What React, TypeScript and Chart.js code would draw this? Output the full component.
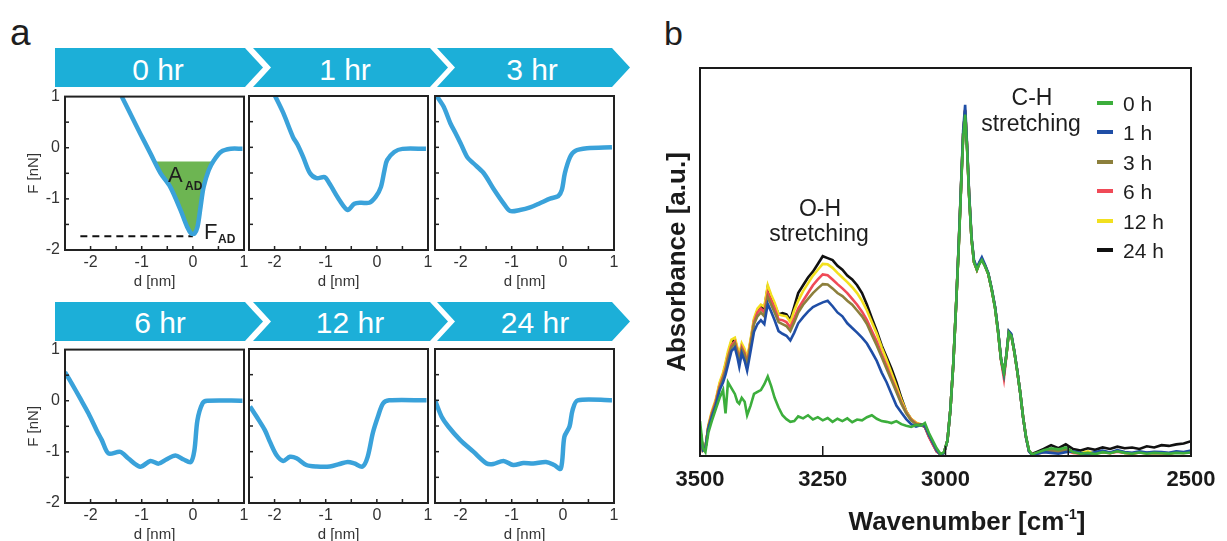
import React, { useEffect, useRef } from "react";
import { Chart, registerables } from "chart.js";

Chart.register(...registerables);

const FONT = '"Liberation Sans", Arial, Helvetica, sans-serif';
Chart.defaults.font.family = FONT;

// ---------------- Panel a data ----------------
const SMALL_X_LABELS = [-2, -1, 0, 1];
const SMALL_Y_LABELS = [1, 0, -1, -2];
const SMALL_X_MINOR = [-2, -1.5, -1, -0.5, 0, 0.5];
const SMALL_Y_MINOR = [0.5, 0, -0.5, -1, -1.5];
const TIME_LABELS = ["0 hr", "1 hr", "3 hr", "6 hr", "12 hr", "24 hr"];

const D_0HR = [-1.39, -1.2, -1.03, -0.83, -0.63, -0.44, -0.24, -0.11, -0.03, 0.03, 0.09, 0.15, 0.21, 0.31, 0.41, 0.55, 0.74, 0.97];
const F_0HR = [1.0, 0.62, 0.28, -0.11, -0.5, -0.77, -1.22, -1.55, -1.68, -1.68, -1.55, -1.16, -0.77, -0.44, -0.25, -0.08, -0.02, -0.02];
const D_AREA = [-0.75, -0.63, -0.44, -0.24, -0.11, -0.03, 0.03, 0.09, 0.15, 0.21, 0.31, 0.4];
const F_AREA = [-0.27, -0.5, -0.77, -1.22, -1.55, -1.68, -1.68, -1.55, -1.16, -0.77, -0.44, -0.27];
const AREA_TOP = -0.27;
const D_FAD = [-2.2, 0];
const F_FAD = [-1.73, -1.73];

const D_1HR = [-1.99, -1.83, -1.64, -1.55, -1.44, -1.31, -1.18, -1.02, -0.93, -0.73, -0.57, -0.44, -0.31, -0.15, -0.02, 0.08, 0.15, 0.2, 0.34, 0.5, 0.96];
const F_1HR = [1.0, 0.67, 0.2, 0.05, -0.19, -0.5, -0.6, -0.58, -0.7, -1.03, -1.22, -1.1, -1.08, -1.08, -0.96, -0.77, -0.44, -0.25, -0.09, -0.03, -0.03];

const D_3HR = [-2.46, -2.33, -2.2, -2.1, -2.0, -1.87, -1.75, -1.55, -1.36, -1.16, -1.03, -0.84, -0.64, -0.45, -0.25, -0.09, -0.02, 0.04, 0.14, 0.24, 0.47, 0.96];
const F_3HR = [0.99, 0.79, 0.47, 0.28, 0.08, -0.19, -0.31, -0.5, -0.8, -1.09, -1.24, -1.22, -1.17, -1.09, -1.0, -0.95, -0.83, -0.5, -0.19, -0.07, -0.02, 0.0];

const D_6HR = [-2.5, -2.37, -2.2, -2.04, -1.88, -1.78, -1.65, -1.42, -1.26, -1.03, -0.83, -0.67, -0.52, -0.34, -0.18, -0.04, 0.03, 0.09, 0.19, 0.28, 0.97];
const F_6HR = [0.56, 0.34, 0.04, -0.25, -0.58, -0.77, -1.03, -1.0, -1.13, -1.29, -1.18, -1.23, -1.15, -1.07, -1.15, -1.2, -0.97, -0.38, -0.05, 0.0, 0.0];

const D_12HR = [-2.48, -2.35, -2.19, -2.09, -1.96, -1.83, -1.7, -1.57, -1.38, -1.18, -0.92, -0.73, -0.57, -0.44, -0.28, -0.18, -0.08, 0.02, 0.12, 0.24, 0.97];
const F_12HR = [-0.12, -0.32, -0.58, -0.81, -1.07, -1.18, -1.1, -1.13, -1.26, -1.29, -1.29, -1.24, -1.2, -1.23, -1.29, -1.1, -0.64, -0.32, -0.06, 0.0, 0.0];

const D_24HR = [-2.5, -2.37, -2.24, -2.01, -1.75, -1.49, -1.36, -1.16, -0.97, -0.77, -0.58, -0.33, -0.17, -0.04, 0.03, 0.13, 0.19, 0.29, 0.96];
const F_24HR = [0.0, -0.32, -0.51, -0.77, -1.0, -1.23, -1.24, -1.18, -1.26, -1.22, -1.23, -1.2, -1.26, -1.33, -0.71, -0.51, -0.19, 0.0, 0.0];

// ---------------- Panel b data ----------------
const WAVENUMBERS = [
  3500, 3494, 3489, 3483, 3476, 3468, 3460, 3453, 3448, 3443,
  3436, 3429, 3424, 3420, 3415, 3409, 3404, 3397, 3390, 3383,
  3376, 3369, 3362, 3355, 3348, 3340, 3332, 3324, 3316, 3308,
  3300, 3290, 3280, 3270, 3260, 3250, 3240, 3230, 3220, 3210,
  3200, 3190, 3180, 3170, 3160, 3150, 3140, 3130, 3120, 3110,
  3100, 3090, 3080, 3070, 3060, 3050, 3042, 3034, 3026, 3018,
  3010, 3003, 2996, 2990, 2984, 2978, 2973, 2968, 2964, 2960,
  2956, 2952, 2947, 2942, 2936, 2931, 2926, 2920, 2913, 2906,
  2899, 2893, 2887, 2881, 2876, 2871, 2866, 2860, 2854, 2848,
  2842, 2836, 2830, 2824, 2815, 2800, 2785, 2770, 2755, 2740,
  2725, 2710, 2695, 2680, 2665, 2650, 2635, 2620, 2605, 2590,
  2575, 2560, 2545, 2530, 2515, 2500,
];

const ABS_0H = [
  0.09, 0.02, 0.01, 0.06, 0.09, 0.12, 0.15, 0.17, 0.11, 0.19,
  0.175, 0.16, 0.14, 0.135, 0.15, 0.14, 0.105, 0.13, 0.16, 0.165,
  0.17, 0.185, 0.205, 0.18, 0.15, 0.125, 0.105, 0.095, 0.088, 0.09,
  0.102, 0.097, 0.105, 0.094, 0.1, 0.092, 0.098, 0.088, 0.096, 0.09,
  0.097, 0.087, 0.094, 0.092, 0.1, 0.105, 0.096, 0.09, 0.088, 0.085,
  0.09, 0.082, 0.078, 0.075, 0.08, 0.078, 0.085, 0.06, 0.04, 0.02,
  0.005, 0.01, 0.04, 0.12, 0.24, 0.4, 0.54, 0.7, 0.82, 0.88,
  0.79, 0.67, 0.56, 0.5, 0.48, 0.495, 0.505, 0.49, 0.47, 0.43,
  0.38, 0.32, 0.25, 0.215, 0.26, 0.318, 0.31, 0.27, 0.22, 0.165,
  0.1, 0.05, 0.015, 0.004, 0.008, 0.015, 0.02, 0.017, 0.022, 0.01,
  0.006, 0.008, 0.005, 0.01, 0.007, 0.012, 0.008, 0.006, 0.009, 0.006,
  0.008, 0.007, 0.006, 0.008, 0.007, 0.009,
];
const ABS_1H = [
  0.07, 0.015, 0.02, 0.07, 0.1, 0.13, 0.17, 0.19, 0.21, 0.235,
  0.27, 0.28, 0.255, 0.23, 0.265, 0.245, 0.22, 0.27, 0.32, 0.34,
  0.35, 0.34, 0.392, 0.372, 0.35, 0.322, 0.315, 0.31, 0.298, 0.318,
  0.342, 0.358, 0.372, 0.384, 0.39, 0.396, 0.4, 0.386, 0.37, 0.36,
  0.342, 0.33, 0.318, 0.305, 0.29, 0.268, 0.245, 0.215, 0.19, 0.16,
  0.13, 0.112, 0.095, 0.082, 0.076, 0.08, 0.078, 0.055, 0.035, 0.015,
  0.003, 0.008, 0.04, 0.12, 0.24, 0.4, 0.55, 0.71, 0.84, 0.905,
  0.8, 0.68, 0.565, 0.505, 0.485, 0.5, 0.512, 0.495, 0.472, 0.432,
  0.385, 0.325, 0.252, 0.212, 0.262, 0.322, 0.315, 0.272, 0.222, 0.165,
  0.1, 0.048, 0.012, 0.003, 0.005, 0.01, 0.008, 0.006, 0.01, 0.012,
  0.008, 0.005, 0.01, 0.014, 0.009, 0.015, 0.01, 0.008, 0.012, 0.009,
  0.011, 0.01, 0.008, 0.012, 0.01, 0.014,
];
const ABS_3H = [
  0.07, 0.015, 0.02, 0.075, 0.105, 0.135, 0.175, 0.2, 0.22, 0.25,
  0.28, 0.29, 0.268, 0.245, 0.275, 0.26, 0.235, 0.285, 0.34, 0.36,
  0.37, 0.36, 0.41, 0.39, 0.37, 0.345, 0.34, 0.335, 0.322, 0.345,
  0.37, 0.39, 0.405, 0.42, 0.432, 0.443, 0.442, 0.432, 0.42, 0.412,
  0.4, 0.39, 0.375, 0.36, 0.34, 0.312, 0.285, 0.255, 0.225, 0.195,
  0.165, 0.135, 0.11, 0.092, 0.082, 0.082, 0.08, 0.056, 0.036, 0.016,
  0.004, 0.009, 0.04, 0.12, 0.24, 0.4, 0.545, 0.705, 0.83, 0.89,
  0.795, 0.675, 0.56, 0.5, 0.48, 0.497, 0.507, 0.492, 0.47, 0.43,
  0.382, 0.322, 0.25, 0.21, 0.26, 0.32, 0.312, 0.27, 0.22, 0.165,
  0.1, 0.048, 0.013, 0.004, 0.006, 0.012, 0.015, 0.012, 0.016, 0.01,
  0.007, 0.006, 0.008, 0.012, 0.008, 0.013, 0.009, 0.007, 0.01, 0.008,
  0.009, 0.008, 0.007, 0.01, 0.009, 0.012,
];
const ABS_6H = [
  0.075, 0.015, 0.02, 0.075, 0.11, 0.14, 0.18, 0.205, 0.225, 0.255,
  0.285, 0.295, 0.272, 0.25, 0.28, 0.265, 0.24, 0.29, 0.345, 0.37,
  0.38, 0.37, 0.42, 0.4, 0.38, 0.352, 0.35, 0.345, 0.332, 0.355,
  0.38, 0.4, 0.42, 0.44, 0.455, 0.468, 0.466, 0.455, 0.443, 0.432,
  0.42, 0.405, 0.39, 0.372, 0.35, 0.322, 0.295, 0.262, 0.232, 0.2,
  0.17, 0.138, 0.112, 0.094, 0.084, 0.08, 0.076, 0.05, 0.03, 0.012,
  0.004, 0.009, 0.04, 0.12, 0.24, 0.4, 0.545, 0.705, 0.83, 0.892,
  0.796, 0.676, 0.56, 0.5, 0.48, 0.497, 0.507, 0.492, 0.47, 0.43,
  0.382, 0.322, 0.248, 0.2, 0.258, 0.32, 0.312, 0.27, 0.22, 0.165,
  0.1, 0.048, 0.013, 0.004, 0.006, 0.01, 0.012, 0.01, 0.014, 0.008,
  0.006, 0.005, 0.008, 0.01, 0.007, 0.011, 0.008, 0.006, 0.009, 0.007,
  0.008, 0.007, 0.006, 0.009, 0.008, 0.01,
];
const ABS_12H = [
  0.075, 0.015, 0.02, 0.08, 0.115, 0.145, 0.19, 0.215, 0.24, 0.27,
  0.3, 0.305, 0.28, 0.26, 0.29, 0.275, 0.25, 0.3, 0.355, 0.38,
  0.39, 0.385, 0.44, 0.415, 0.395, 0.365, 0.362, 0.36, 0.345, 0.375,
  0.4, 0.425, 0.445, 0.465, 0.48, 0.495, 0.494, 0.485, 0.472, 0.46,
  0.448, 0.435, 0.42, 0.4, 0.375, 0.345, 0.315, 0.28, 0.248, 0.214,
  0.18, 0.145, 0.115, 0.096, 0.086, 0.082, 0.078, 0.054, 0.034, 0.014,
  0.004, 0.009, 0.04, 0.12, 0.24, 0.4, 0.545, 0.705, 0.83, 0.89,
  0.795, 0.675, 0.56, 0.5, 0.48, 0.497, 0.507, 0.492, 0.47, 0.43,
  0.382, 0.322, 0.25, 0.21, 0.26, 0.32, 0.312, 0.27, 0.22, 0.165,
  0.1, 0.048, 0.013, 0.004, 0.006, 0.012, 0.014, 0.012, 0.015, 0.009,
  0.007, 0.012, 0.006, 0.01, 0.008, 0.012, 0.008, 0.006, 0.009, 0.007,
  0.008, 0.007, 0.006, 0.009, 0.008, 0.011,
];
const ABS_24H = [
  0.07, 0.015, 0.02, 0.075, 0.11, 0.14, 0.185, 0.21, 0.235, 0.262,
  0.295, 0.3, 0.275, 0.255, 0.285, 0.27, 0.245, 0.295, 0.35, 0.375,
  0.385, 0.38, 0.435, 0.41, 0.39, 0.365, 0.368, 0.365, 0.35, 0.385,
  0.42, 0.44, 0.46, 0.475, 0.495, 0.515, 0.51, 0.505, 0.49, 0.48,
  0.465, 0.455, 0.44, 0.42, 0.39, 0.355, 0.322, 0.285, 0.255, 0.225,
  0.19, 0.15, 0.115, 0.095, 0.085, 0.08, 0.075, 0.052, 0.032, 0.012,
  0.004, 0.009, 0.04, 0.12, 0.24, 0.4, 0.545, 0.705, 0.83, 0.89,
  0.795, 0.675, 0.56, 0.5, 0.48, 0.497, 0.507, 0.492, 0.47, 0.43,
  0.382, 0.322, 0.25, 0.21, 0.26, 0.32, 0.312, 0.27, 0.22, 0.165,
  0.1, 0.048, 0.013, 0.005, 0.01, 0.018, 0.028, 0.02, 0.03, 0.018,
  0.014, 0.02, 0.016, 0.022, 0.018, 0.024, 0.02, 0.022, 0.018, 0.025,
  0.022, 0.028, 0.026, 0.03, 0.032, 0.038,
];

const SERIES_LABELS = ["0 h", "1 h", "3 h", "6 h", "12 h", "24 h"];
const SERIES_COLORS = ["#3cae3c", "#1f4ea6", "#8c7f3c", "#f04a57", "#f2e01f", "#111111"];
const SERIES_VALUES = [ABS_0H, ABS_1H, ABS_3H, ABS_6H, ABS_12H, ABS_24H];
const B_X_LABELS = [3500, 3250, 3000, 2750, 2500];

// ---------------- styling / layout ----------------
const CURVE_COLOR = "#3aa2da";
const BANNER_COLOR = "#1cafd8";
const AREA_COLOR = "#6db552";
const TEXT = "#1e1e1e";

const COL_LEFT = [65, 249, 435];
const ROW_TOP = [96, 349];
const BOX_W = 179;
const BOX_H = 154;
const PAD_L = 45;
const PAD_T = 14;
const PAD_R = 14;
const PAD_B = 48;

const frameTicks = {
  id: "frameTicks",
  afterDraw(chart: any, _args: any, opts: any) {
    if (!opts || !opts.enabled) return;
    const { ctx, chartArea: a, scales } = chart;
    ctx.save();
    ctx.strokeStyle = opts.color || "#222";
    ctx.lineWidth = opts.tickWidth || 1.5;
    (opts.xTicks || []).forEach((v: number) => {
      const px = scales.x.getPixelForValue(v);
      ctx.beginPath();
      ctx.moveTo(px, a.bottom);
      ctx.lineTo(px, a.bottom - opts.len);
      ctx.stroke();
    });
    (opts.yTicks || []).forEach((v: number) => {
      const py = scales.y.getPixelForValue(v);
      ctx.beginPath();
      ctx.moveTo(a.left, py);
      ctx.lineTo(a.left + opts.len, py);
      ctx.stroke();
    });
    ctx.lineWidth = opts.frameWidth || 2;
    ctx.strokeRect(a.left, a.top, a.right - a.left, a.bottom - a.top);
    ctx.restore();
  },
};
Chart.register(frameTicks);

const toPts = (xs: number[], ys: number[]) => xs.map((x, i) => ({ x, y: ys[i] }));

function SmallPlot(props: { col: number; row: number; d: number[]; f: number[]; showY: boolean; annotated?: boolean }) {
  const ref = useRef<HTMLCanvasElement>(null);
  const { col, row, d, f, showY, annotated } = props;
  useEffect(() => {
    const datasets: any[] = [
      {
        data: toPts(d, f),
        borderColor: CURVE_COLOR,
        borderWidth: 4.5,
        pointRadius: 0,
        tension: 0.3,
        fill: false,
      },
    ];
    if (annotated) {
      datasets.push({
        data: toPts(D_AREA, F_AREA),
        borderWidth: 0,
        borderColor: "rgba(0,0,0,0)",
        backgroundColor: AREA_COLOR,
        pointRadius: 0,
        tension: 0.3,
        fill: { value: AREA_TOP },
      });
      datasets.push({
        data: toPts(D_FAD, F_FAD),
        borderColor: "#111",
        borderWidth: 2,
        borderDash: [7, 5],
        pointRadius: 0,
        fill: false,
      });
    }
    const tickFont = { family: FONT, size: 16 };
    const chart = new Chart(ref.current as HTMLCanvasElement, {
      type: "line",
      data: { datasets },
      options: {
        animation: false,
        responsive: false,
        events: [],
        layout: { padding: { top: PAD_T, right: PAD_R, left: 0, bottom: 0 } },
        plugins: {
          legend: { display: false },
          tooltip: { enabled: false },
          frameTicks: { enabled: true, xTicks: SMALL_X_MINOR, yTicks: SMALL_Y_MINOR, len: 4, tickWidth: 1.5, frameWidth: 2, color: "#222" },
        } as any,
        scales: {
          x: {
            type: "linear",
            min: -2.5,
            max: 1,
            afterBuildTicks: (s: any) => {
              s.ticks = SMALL_X_LABELS.map((v) => ({ value: v }));
            },
            afterFit: (s: any) => {
              s.height = PAD_B;
            },
            grid: { display: false, drawTicks: false },
            border: { display: false },
            ticks: { font: tickFont, color: "#333", padding: 3, maxRotation: 0, autoSkip: false, callback: (v: any) => String(v) },
            title: { display: true, text: "d [nm]", font: { family: FONT, size: 15 }, color: "#333", padding: { top: 0, bottom: 7 } },
          },
          y: {
            type: "linear",
            min: -2,
            max: 1,
            afterBuildTicks: (s: any) => {
              s.ticks = SMALL_Y_LABELS.map((v) => ({ value: v }));
            },
            afterFit: (s: any) => {
              s.width = PAD_L;
            },
            grid: { display: false, drawTicks: false },
            border: { display: false },
            ticks: { display: showY, font: tickFont, color: "#333", padding: 5, callback: (v: any) => String(v) },
            title: { display: showY, text: "F [nN]", font: { family: FONT, size: 15 }, color: "#333", padding: { top: 5, bottom: 0 } },
          },
        },
      } as any,
    });
    return () => chart.destroy();
  }, []);
  const w = PAD_L + BOX_W + PAD_R;
  const h = PAD_T + BOX_H + PAD_B;
  return (
    <canvas
      ref={ref}
      width={w}
      height={h}
      style={{ position: "absolute", left: COL_LEFT[col] - PAD_L, top: ROW_TOP[row] - PAD_T, width: w, height: h }}
    />
  );
}

function Spectrum() {
  const ref = useRef<HTMLCanvasElement>(null);
  useEffect(() => {
    const datasets = SERIES_VALUES.map((vals, i) => ({
      label: SERIES_LABELS[i],
      data: toPts(WAVENUMBERS, vals),
      borderColor: SERIES_COLORS[i],
      borderWidth: 2.6,
      pointRadius: 0,
      tension: 0,
      fill: false,
    }));
    const chart = new Chart(ref.current as HTMLCanvasElement, {
      type: "line",
      data: { datasets },
      options: {
        animation: false,
        responsive: false,
        events: [],
        layout: { padding: { top: 8, right: 36, left: 0, bottom: 0 } },
        plugins: {
          legend: { display: false },
          tooltip: { enabled: false },
          frameTicks: { enabled: true, xTicks: [3250, 3000, 2750], yTicks: [], len: 10, tickWidth: 1.5, frameWidth: 2, color: "#1a1a1a" },
        } as any,
        scales: {
          x: {
            type: "linear",
            reverse: true,
            min: 2500,
            max: 3500,
            afterBuildTicks: (s: any) => {
              s.ticks = B_X_LABELS.map((v) => ({ value: v }));
            },
            afterFit: (s: any) => {
              s.height = 85;
            },
            grid: { display: false, drawTicks: false },
            border: { display: false },
            ticks: { font: { family: FONT, size: 22, weight: "bold" }, color: "#1a1a1a", padding: 11, maxRotation: 0, autoSkip: false, callback: (v: any) => String(v) },
          },
          y: {
            type: "linear",
            min: 0,
            max: 1,
            afterFit: (s: any) => {
              s.width = 60;
            },
            grid: { display: false, drawTicks: false },
            border: { display: false },
            ticks: { display: false },
            title: { display: true, text: "Absorbance [a.u.]", font: { family: FONT, size: 26, weight: "bold" }, color: "#1a1a1a", padding: { top: 22, bottom: 0 } },
          },
        },
      } as any,
    });
    return () => chart.destroy();
  }, []);
  return <canvas ref={ref} width={587} height={481} style={{ position: "absolute", left: 640, top: 60, width: 587, height: 481 }} />;
}

const BANNER_X = [
  { l: 55, notch: 0, r: 245, tip: 263 },
  { l: 253, notch: 18, r: 430, tip: 448 },
  { l: 437, notch: 18, r: 612, tip: 630 },
];
const BANNER_Y = [48, 302];
const BANNER_H = 39;
const BANNER_TEXT_X = [
  [158, 345, 532],
  [160, 350, 535],
];

function Banners() {
  const polys: any[] = [];
  BANNER_Y.forEach((top, ri) => {
    BANNER_X.forEach((b, ci) => {
      const mid = top + BANNER_H / 2;
      const bot = top + BANNER_H;
      const pts = [
        [b.l, top],
        [b.r, top],
        [b.tip, mid],
        [b.r, bot],
        [b.l, bot],
        [b.l + b.notch, mid],
      ]
        .map((p) => p.join(","))
        .join(" ");
      polys.push(<polygon key={`${ri}-${ci}`} points={pts} fill={BANNER_COLOR} />);
    });
  });
  return (
    <svg width={1227} height={541} style={{ position: "absolute", left: 0, top: 0 }}>
      {polys}
    </svg>
  );
}

const txt = (style: any): any => ({
  position: "absolute",
  fontFamily: FONT,
  lineHeight: 1,
  whiteSpace: "nowrap",
  color: TEXT,
  ...style,
});

export default function App() {
  const plots = [
    { d: D_0HR, f: F_0HR },
    { d: D_1HR, f: F_1HR },
    { d: D_3HR, f: F_3HR },
    { d: D_6HR, f: F_6HR },
    { d: D_12HR, f: F_12HR },
    { d: D_24HR, f: F_24HR },
  ];
  return (
    <div style={{ position: "absolute", left: 0, top: 0, width: 1227, height: 541, overflow: "hidden", background: "#fff" }}>
      <Banners />
      {TIME_LABELS.map((t, i) => {
        const r = Math.floor(i / 3);
        const c = i % 3;
        return (
          <div
            key={t}
            style={txt({
              left: BANNER_TEXT_X[r][c] - 60,
              width: 120,
              textAlign: "center",
              top: r === 0 ? 55 : 308,
              fontSize: 30,
              color: "#ffffff",
            })}
          >
            {t}
          </div>
        );
      })}
      {plots.map((p, i) => (
        <SmallPlot key={i} col={i % 3} row={Math.floor(i / 3)} d={p.d} f={p.f} showY={i % 3 === 0} annotated={i === 0} />
      ))}
      <div style={txt({ left: 168, top: 164, fontSize: 22 })}>A</div>
      <div style={txt({ left: 185, top: 180, fontSize: 12, fontWeight: "bold" })}>AD</div>
      <div style={txt({ left: 204, top: 221, fontSize: 22 })}>F</div>
      <div style={txt({ left: 218, top: 233, fontSize: 12, fontWeight: "bold" })}>AD</div>

      <div style={txt({ left: 10, top: 14, fontSize: 37 })}>a</div>
      <div style={txt({ left: 664, top: 16, fontSize: 34 })}>b</div>

      <Spectrum />

      <div style={txt({ left: 967, top: 521, transform: "translate(-50%,-50%)", fontSize: 26, fontWeight: "bold", color: "#1a1a1a" })}>
        Wavenumber [cm<sup style={{ fontSize: 14, verticalAlign: "top", position: "relative", top: -1 }}>-1</sup>]
      </div>
      <div style={txt({ left: 820, top: 208, transform: "translate(-50%,-50%)", fontSize: 23 })}>O-H</div>
      <div style={txt({ left: 819, top: 233, transform: "translate(-50%,-50%)", fontSize: 23 })}>stretching</div>
      <div style={txt({ left: 1032, top: 97, transform: "translate(-50%,-50%)", fontSize: 23 })}>C-H</div>
      <div style={txt({ left: 1031, top: 123, transform: "translate(-50%,-50%)", fontSize: 23 })}>stretching</div>

      {SERIES_LABELS.map((lab, i) => {
        const cy = 103 + i * 29.4;
        return (
          <React.Fragment key={lab}>
            <div style={{ position: "absolute", left: 1097, top: cy - 2, width: 16, height: 4, background: SERIES_COLORS[i] }} />
            <div style={txt({ left: 1123, top: cy, transform: "translateY(-50%)", fontSize: 21 })}>{lab}</div>
          </React.Fragment>
        );
      })}
    </div>
  );
}
